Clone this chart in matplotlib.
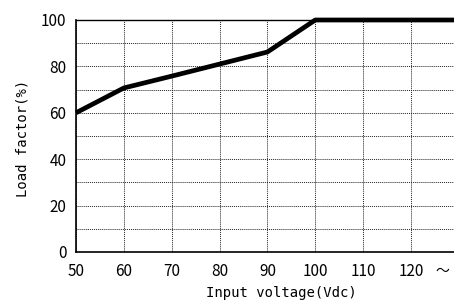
import matplotlib
matplotlib.use("Agg")
import matplotlib.pyplot as plt

voltage = [50, 60, 70, 80, 90, 100, 130]
load = [60, 70.7, 75.8, 81, 86.2, 100, 100]
xticks = [50, 60, 70, 80, 90, 100, 110, 120]
yticks = [0, 20, 40, 60, 80, 100]

fig = plt.figure(figsize=(4.54, 3.04), dpi=100)
ax = fig.add_axes([76/454, 52/304, 1 - 76/454, (252-20)/304])

ax.plot(voltage, load, color="black", lw=3.4, solid_capstyle="butt", zorder=3, clip_on=False)
ax.set_xlim(50, 129)
ax.set_ylim(0, 100)

ax.grid(True, which="major", color="#222222", linestyle=(0, (1, 1)), linewidth=0.7)
ax.set_xticks(xticks)
ax.set_xticklabels([str(t) for t in xticks])
ax.set_yticks(range(0, 101, 10))
ax.set_yticklabels([str(t) if t in yticks else "" for t in range(0, 101, 10)])
ax.tick_params(length=0, labelsize=11)
ax.tick_params(axis="x", pad=8)
ax.tick_params(axis="y", pad=7)
for lab in ax.get_xticklabels() + ax.get_yticklabels():
    lab.set_fontfamily("Noto Sans CJK JP")

ax.spines["right"].set_visible(False)
ax.spines["top"].set_linewidth(1.0)
ax.spines["left"].set_linewidth(1.2)
ax.spines["bottom"].set_linewidth(1.2)

ax.text(126.6, -0.05, "～", transform=ax.get_xaxis_transform(), ha="center", va="top",
        fontsize=10, family=["Noto Sans CJK JP", "DejaVu Sans"])

fig.text(281/454, 1 - 293/304, "Input voltage(Vdc)", ha="center", va="center",
         fontsize=10, family="DejaVu Sans Mono")
fig.text(23/454, 1 - 138/304, "Load factor(%)", ha="center", va="center", rotation=90,
         fontsize=10, family="DejaVu Sans Mono")

fig.savefig("out.png", dpi=100)
